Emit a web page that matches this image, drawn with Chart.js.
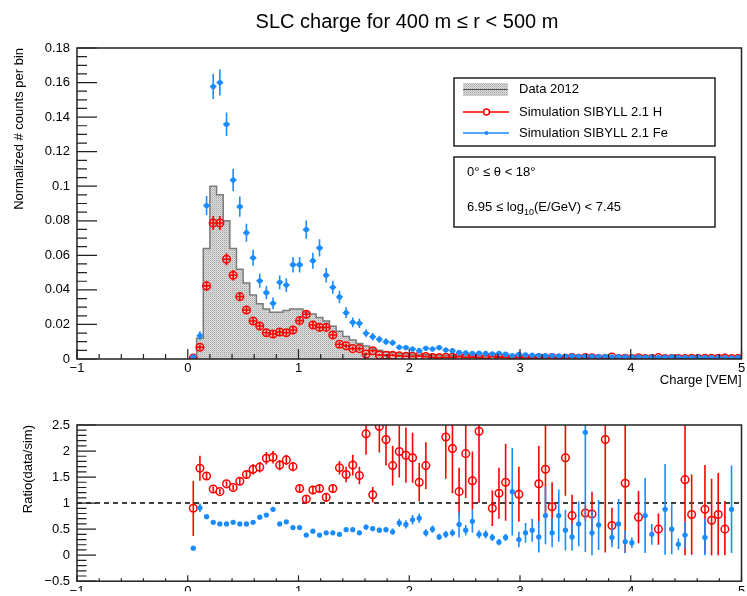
<!DOCTYPE html>
<html>
<head>
<meta charset="utf-8">
<script src="https://cdn.jsdelivr.net/npm/chart.js@4.4.1/dist/chart.umd.min.js"></script>
<style>
  html, body { margin: 0; padding: 0; background: #fff; overflow: hidden; }
  canvas { position: absolute; left: 0; }
  #top { top: 0; }
  #bottom { top: 400px; }
</style>
</head>
<body>
<canvas id="top" width="747" height="400"></canvas>
<canvas id="bottom" width="747" height="196"></canvas>
<script>
// bin centres (bins of 0.06 VEM)
const binCenters = [
  0.05, 0.11, 0.17, 0.23, 0.29, 0.35, 0.41, 0.47, 0.53, 0.59,
  0.65, 0.71, 0.77, 0.83, 0.89, 0.95, 1.01, 1.07, 1.13, 1.19,
  1.25, 1.31, 1.37, 1.43, 1.49, 1.55, 1.61, 1.67, 1.73, 1.79,
  1.85, 1.91, 1.97, 2.03, 2.09, 2.15, 2.21, 2.27, 2.33, 2.39,
  2.45, 2.51, 2.57, 2.63, 2.69, 2.75, 2.81, 2.87, 2.93, 2.99,
  3.05, 3.11, 3.17, 3.23, 3.29, 3.35, 3.41, 3.47, 3.53, 3.59,
  3.65, 3.71, 3.77, 3.83, 3.89, 3.95, 4.01, 4.07, 4.13, 4.19,
  4.25, 4.31, 4.37, 4.43, 4.49, 4.55, 4.61, 4.67, 4.73, 4.79,
  4.85, 4.91, 4.97
];
const binHalfWidth = 0.03;

// Data 2012 histogram
const dataCounts = [
  0.001, 0.012, 0.064, 0.100, 0.095, 0.080, 0.064, 0.052, 0.044, 0.037,
  0.032, 0.029, 0.027, 0.027, 0.028, 0.029, 0.029, 0.027, 0.026, 0.024,
  0.022, 0.019, 0.016, 0.013, 0.011, 0.009, 0.0075, 0.006, 0.005, 0.0042,
  0.0036, 0.0032, 0.0030, 0.0028, 0.0026, 0.0024, 0.0023, 0.0022, 0.0021, 0.0020,
  0.0019, 0.0018, 0.0017, 0.0016, 0.0015, 0.0014, 0.0013, 0.0012, 0.0012, 0.0011,
  0.0010, 0.0010, 0.0009, 0.0009, 0.0008, 0.0008, 0.0008, 0.0007, 0.0007, 0.0007,
  0.0006, 0.0006, 0.0006, 0.0006, 0.0005, 0.0005, 0.0005, 0.0005, 0.0005, 0.0004,
  0.0004, 0.0004, 0.0004, 0.0004, 0.0004, 0.0003, 0.0003, 0.0003, 0.0003, 0.0003,
  0.0003, 0.0003, 0.0002
];

// Simulation SIBYLL 2.1 H
const simH = [
  0.0005, 0.0068, 0.0423, 0.0787, 0.0787, 0.0577, 0.0485, 0.0361, 0.0284, 0.0220,
  0.0191, 0.0152, 0.0145, 0.0156, 0.0152, 0.0168, 0.0222, 0.0259, 0.0197, 0.0183,
  0.0183, 0.0139, 0.0085, 0.0077, 0.0060, 0.0060, 0.0029, 0.0048, 0.0023, 0.0022,
  0.0022, 0.0018, 0.0016, 0.0015, 0.0017, 0.0014, 0.0009, 0.0008, 0.0010, 0.0010,
  0.0013, 0.0009, 0.0011, 0.0007, 0.0004, 0.0014, 0.0011, 0.0009, 0.0004, 0.0009,
  0.0004, 0.0004, 0.0007, 0.0006, 0.0008, 0.0004, 0.0004, 0.0009, 0.0004, 0.0008,
  0.0007, 0.0003, 0.0003, 0.0012, 0.0003, 0.0004, 0.0003, 0.0007, 0.0003, 0.0003,
  0.0008, 0.0003, 0.0003, 0.0003, 0.0002, 0.0004, 0.0003, 0.0004, 0.0004, 0.0004,
  0.0006, 0.0003, 0.0003
];
const simHErr = [
  0.0005, 0.0015, 0.0030, 0.0040, 0.0040, 0.0035, 0.0030, 0.0027, 0.0024, 0.0021,
  0.0020, 0.0018, 0.0017, 0.0018, 0.0018, 0.0019, 0.0022, 0.0024, 0.0020, 0.0020,
  0.0020, 0.0017, 0.0014, 0.0013, 0.0012, 0.0012, 0.0009, 0.0010, 0.0007, 0.0007,
  0.0007, 0.0006, 0.0006, 0.0006, 0.0006, 0.0005, 0.0005, 0.0004, 0.0005, 0.0005,
  0.0005, 0.0004, 0.0005, 0.0004, 0.0003, 0.0005, 0.0005, 0.0004, 0.0003, 0.0004,
  0.0003, 0.0003, 0.0004, 0.0004, 0.0004, 0.0003, 0.0003, 0.0004, 0.0003, 0.0004,
  0.0004, 0.0003, 0.0003, 0.0005, 0.0003, 0.0003, 0.0003, 0.0004, 0.0003, 0.0003,
  0.0004, 0.0003, 0.0003, 0.0003, 0.0002, 0.0003, 0.0003, 0.0003, 0.0003, 0.0003,
  0.0004, 0.0003, 0.0003
];

// Simulation SIBYLL 2.1 Fe
const simFe = [
  0.0013, 0.0135, 0.0888, 0.1577, 0.1600, 0.1358, 0.1036, 0.0882, 0.0731, 0.0586,
  0.0453, 0.0384, 0.0322, 0.0444, 0.0428, 0.0546, 0.0546, 0.0749, 0.0569, 0.0643,
  0.0485, 0.0415, 0.0359, 0.0268, 0.0212, 0.0207, 0.0149, 0.0129, 0.0114, 0.0100,
  0.0094, 0.0068, 0.0066, 0.0058, 0.0048, 0.0062, 0.0058, 0.0066, 0.0052, 0.0048,
  0.0038, 0.0036, 0.0032, 0.0034, 0.0032, 0.0030, 0.0033, 0.0028, 0.0020, 0.0027,
  0.0024, 0.0022, 0.0021, 0.0019, 0.0020, 0.0018, 0.0017, 0.0018, 0.0016, 0.0015,
  0.0015, 0.0014, 0.0016, 0.0013, 0.0014, 0.0012, 0.0013, 0.0012, 0.0011, 0.0012,
  0.0010, 0.0011, 0.0012, 0.0010, 0.0009, 0.0010, 0.0011, 0.0009, 0.0008, 0.0009,
  0.0008, 0.0007, 0.0008
];
const simFeErr = [
  0.0008, 0.0025, 0.0055, 0.0072, 0.0075, 0.0068, 0.0065, 0.0058, 0.0052, 0.0046,
  0.0040, 0.0038, 0.0034, 0.0040, 0.0040, 0.0045, 0.0045, 0.0053, 0.0046, 0.0050,
  0.0042, 0.0038, 0.0036, 0.0031, 0.0028, 0.0027, 0.0023, 0.0022, 0.0020, 0.0019,
  0.0018, 0.0016, 0.0015, 0.0015, 0.0013, 0.0015, 0.0014, 0.0015, 0.0014, 0.0013,
  0.0012, 0.0012, 0.0011, 0.0011, 0.0011, 0.0010, 0.0011, 0.0010, 0.0009, 0.0010,
  0.0008, 0.0008, 0.0008, 0.0008, 0.0008, 0.0008, 0.0008, 0.0008, 0.0008, 0.0008,
  0.0008, 0.0008, 0.0008, 0.0008, 0.0008, 0.0008, 0.0008, 0.0008, 0.0008, 0.0008,
  0.0007, 0.0007, 0.0007, 0.0007, 0.0007, 0.0007, 0.0007, 0.0007, 0.0007, 0.0007,
  0.0007, 0.0007, 0.0007
];

// ratio data / sim (null = not drawn)
const ratioH = [
  0.90, 1.67, 1.52, 1.27, 1.22, 1.37, 1.30, 1.42, 1.55, 1.65,
  1.69, 1.86, 1.88, 1.73, 1.83, 1.70, 1.28, 1.08, 1.25, 1.28,
  1.11, 1.28, 1.68, 1.55, 1.73, 1.53, 2.33, 1.16, 2.47, 2.22,
  1.72, 1.99, 1.92, 1.87, 1.40, 1.72, null, null, 2.27, 2.05,
  1.22, 1.95, 1.43, 2.38, null, 0.90, 1.19, 1.40, null, 1.17,
  null, null, 1.37, 1.65, 0.93, null, 1.87, 0.76, null, 0.81,
  0.79, null, 2.22, 0.57, null, 1.38, null, 0.73, null, null,
  0.50, null, null, null, 1.45, 0.78, null, 0.88, 0.67, 0.78,
  0.50, null, null
];
const ratioHErr = [
  0.53, 0.24, 0.07, 0.05, 0.05, 0.05, 0.05, 0.07, 0.08, 0.10,
  0.10, 0.12, 0.12, 0.10, 0.10, 0.09, 0.07, 0.06, 0.07, 0.08,
  0.08, 0.08, 0.13, 0.15, 0.20, 0.17, 0.40, 0.15, 0.50, 0.50,
  0.38, 0.50, 0.53, 0.48, 0.37, 0.45, 0, 0, 0.80, 0.86,
  0.46, 0.85, 0.56, 1.38, 0, 0.34, 0.49, 0.74, 0, 0.53,
  0, 0, 0.73, 0.90, 0.47, 0, 0.73, 0.40, 0, 0.15,
  0.43, 0, 2.17, 0.34, 0, 1.34, 0, 0.50, 0, 0,
  0.30, 0, 0, 0, 1.45, 0.77, 0, 0.85, 0.80, 0.80,
  0.54, 0, 0
];
const ratioFe = [
  0.135, 0.91, 0.74, 0.63, 0.60, 0.60, 0.63, 0.60, 0.60, 0.63,
  0.73, 0.77, 0.88, 0.60, 0.64, 0.53, 0.53, 0.385, 0.46, 0.385,
  0.43, 0.43, 0.40, 0.49, 0.49, 0.43, 0.54, 0.51, 0.48, 0.49,
  0.45, 0.62, 0.59, 0.68, 0.71, 0.43, 0.50, 0.35, 0.40, 0.43,
  0.59, 0.48, 0.65, 0.40, 0.40, 0.34, 0.25, 0.34, 1.22, 0.30,
  0.43, 0.48, 0.35, 0.76, 0.43, 0.76, 0.48, 0.35, 0.60, 2.36,
  0.43, 0.58, null, 0.34, 0.60, 0.26, 0.24, null, 0.76, 0.40,
  null, 0.88, 0.50, 0.21, 0.385, null, null, 0.34, null, null,
  null, 0.88, null
];
const ratioFeErr = [
  0.02, 0.08, 0.03, 0.02, 0.02, 0.02, 0.02, 0.02, 0.02, 0.02,
  0.03, 0.03, 0.04, 0.03, 0.03, 0.03, 0.03, 0.02, 0.03, 0.03,
  0.03, 0.03, 0.03, 0.04, 0.04, 0.04, 0.05, 0.05, 0.05, 0.05,
  0.06, 0.08, 0.08, 0.09, 0.09, 0.07, 0.07, 0.06, 0.07, 0.07,
  0.25, 0.10, 0.22, 0.08, 0.08, 0.07, 0.06, 0.07, 0.84, 0.15,
  0.19, 0.22, 0.30, 0.55, 0.28, 0.50, 0.39, 0.26, 0.43, 2.30,
  0.43, 0.48, 0, 0.19, 0.48, 0.22, 0.10, 0, 0.72, 0.20,
  0, 0.87, 0.48, 0.11, 0.25, 0, 0, 0.36, 0, 0,
  0, 0.84, 0
];

// axis ticks
const xTicks = [-1, 0, 1, 2, 3, 4, 5];
const topYTicks = [0, 0.02, 0.04, 0.06, 0.08, 0.1, 0.12, 0.14, 0.16, 0.18];
const ratioYTicks = [-0.5, 0, 0.5, 1, 1.5, 2, 2.5];
const ratioRef = 1;

const hColor = '#ff0000';
const feColor = '#1a8cff';
const fontFamily = "'Liberation Sans', Arial, Helvetica, sans-serif";

Chart.defaults.font.family = fontFamily;
Chart.defaults.font.size = 13;
Chart.defaults.color = '#000';

const pts = arr => binCenters.map((c, i) => ({ x: c, y: arr[i] }));
const fmt = v => (v < 0 ? '\u2212' : '') + String(+Math.abs(v).toFixed(2));

// fine grey dot fill like the ROOT fill style
function makeHatch() {
    const c = document.createElement('canvas');
    c.width = 2; c.height = 2;
    const g = c.getContext('2d');
    g.fillStyle = '#dedede';
    g.fillRect(0, 0, 2, 2);
    g.fillStyle = '#a2a2a2';
    g.fillRect(0, 0, 1, 1);
    g.fillStyle = '#c4c4c4';
    g.fillRect(1, 1, 1, 1);
    return g.createPattern(c, 'repeat');
}
const hatch = makeHatch();

// error bars drawn right after each dataset
const errorBars = {
    id: 'errorBars',
    afterDatasetDraw(chart, args) {
        const ds = chart.data.datasets[args.index];
        if (!ds.errors) return;
        const { ctx, chartArea: a, scales: { x, y } } = chart;
        ctx.save();
        ctx.beginPath();
        ctx.rect(a.left, a.top, a.right - a.left, a.bottom - a.top);
        ctx.clip();
        ctx.strokeStyle = ds.pointBorderColor;
        ctx.lineWidth = 1.6;
        ds.data.forEach((p, i) => {
            if (p.y === null) return;
            const e = ds.errors[i];
            const px = x.getPixelForValue(p.x);
            const py = y.getPixelForValue(p.y);
            ctx.beginPath();
            if (e > 0) {
                ctx.moveTo(px, y.getPixelForValue(Math.max(p.y - e, 0)));
                ctx.lineTo(px, y.getPixelForValue(p.y + e));
            }
            if (ds.xErr) {
                ctx.moveTo(x.getPixelForValue(p.x - ds.xErr), py);
                ctx.lineTo(x.getPixelForValue(p.x + ds.xErr), py);
            }
            ctx.stroke();
        });
        ctx.restore();
    }
};

// ROOT style frame with inward ticks
const rootFrame = {
    id: 'rootFrame',
    beforeDatasetsDraw(chart, args, o) {
        if (o.refLine === undefined) return;
        const { ctx, chartArea: a, scales: { y } } = chart;
        const py = y.getPixelForValue(o.refLine);
        ctx.save();
        ctx.strokeStyle = '#000';
        ctx.lineWidth = 1.5;
        ctx.setLineDash([5, 4]);
        ctx.beginPath();
        ctx.moveTo(a.left, py);
        ctx.lineTo(a.right, py);
        ctx.stroke();
        ctx.restore();
    },
    afterDraw(chart, args, o) {
        const { ctx, chartArea: a, scales: { x, y } } = chart;
        ctx.save();
        ctx.strokeStyle = '#222';
        ctx.lineWidth = 1.5;
        ctx.strokeRect(a.left, a.top, a.right - a.left, a.bottom - a.top);
        ctx.lineWidth = 1.2;
        ctx.beginPath();
        const nx = Math.round((x.max - x.min) / o.xMinor);
        for (let i = 0; i <= nx; i++) {
            const v = x.min + i * o.xMinor;
            const major = xTicks.some(t => Math.abs(t - v) < 1e-6);
            const px = x.getPixelForValue(v);
            ctx.moveTo(px, a.bottom);
            ctx.lineTo(px, a.bottom - (major ? o.xMajorLen : o.xMajorLen / 2));
        }
        const ny = Math.round((y.max - y.min) / o.yMinor);
        for (let i = 0; i <= ny; i++) {
            const v = y.min + i * o.yMinor;
            const major = o.yTicks.some(t => Math.abs(t - v) < 1e-6);
            const py = y.getPixelForValue(v);
            ctx.moveTo(a.left, py);
            ctx.lineTo(a.left + (major ? o.yMajorLen : o.yMajorLen / 2), py);
        }
        ctx.stroke();
        ctx.restore();
    }
};

// title and the two legend panes
const topDecor = {
    id: 'topDecor',
    afterDraw(chart) {
        const ctx = chart.ctx;
        ctx.save();
        ctx.fillStyle = '#000';
        ctx.textBaseline = 'middle';
        ctx.textAlign = 'center';
        ctx.font = '20px ' + fontFamily;
        ctx.fillText('SLC charge for 400 m \u2264 r < 500 m', 407, 22);

        ctx.strokeStyle = '#222';
        ctx.lineWidth = 1.5;
        ctx.strokeRect(454, 78, 261, 68);
        ctx.strokeRect(454, 157, 261, 70);

        ctx.textAlign = 'left';
        ctx.font = '13px ' + fontFamily;
        // Data 2012
        ctx.fillStyle = hatch;
        ctx.fillRect(463, 83, 45, 13);
        ctx.strokeStyle = '#555';
        ctx.lineWidth = 1;
        ctx.beginPath(); ctx.moveTo(463, 89.5); ctx.lineTo(508, 89.5); ctx.stroke();
        ctx.fillStyle = '#000';
        ctx.fillText('Data 2012', 519, 89);
        // H
        ctx.strokeStyle = hColor;
        ctx.lineWidth = 1.5;
        ctx.beginPath(); ctx.moveTo(463, 112); ctx.lineTo(509, 112); ctx.stroke();
        ctx.fillStyle = '#fff';
        ctx.beginPath(); ctx.arc(486.5, 112, 3, 0, Math.PI * 2); ctx.fill(); ctx.stroke();
        ctx.fillStyle = '#000';
        ctx.fillText('Simulation SIBYLL 2.1 H', 519, 112);
        // Fe
        ctx.strokeStyle = feColor;
        ctx.beginPath(); ctx.moveTo(463, 133); ctx.lineTo(509, 133); ctx.stroke();
        ctx.fillStyle = feColor;
        ctx.beginPath(); ctx.arc(486.5, 133, 2, 0, Math.PI * 2); ctx.fill();
        ctx.fillStyle = '#000';
        ctx.fillText('Simulation SIBYLL 2.1 Fe', 519, 133);

        // cuts
        ctx.fillText('0\u00b0 \u2264 \u03b8 < 18\u00b0', 467, 172);
        let tx = 467;
        const s1 = '6.95 \u2264 log';
        ctx.fillText(s1, tx, 207);
        tx += ctx.measureText(s1).width;
        ctx.font = '9px ' + fontFamily;
        ctx.fillText('10', tx, 213);
        tx += ctx.measureText('10').width;
        ctx.font = '13px ' + fontFamily;
        ctx.fillText('(E/GeV) < 7.45', tx, 207);
        ctx.restore();
    }
};

function xScale(height, titleText) {
    return {
        type: 'linear', min: -1, max: 5,
        grid: { display: false, drawTicks: false },
        border: { display: false },
        afterBuildTicks: s => { s.ticks = xTicks.map(v => ({ value: v })); },
        afterFit: s => { s.height = height; s.paddingLeft = 0; s.paddingRight = 0; },
        ticks: { padding: 2, callback: fmt, maxRotation: 0, autoSkip: false, font: { size: 13 } },
        title: titleText ? { display: true, text: titleText, align: 'end', font: { size: 13 }, padding: { top: 0, bottom: 12 } } : { display: false }
    };
}

function yScale(min, max, tickList, titleText, titlePad) {
    return {
        min: min, max: max,
        grid: { display: false, drawTicks: false },
        border: { display: false },
        afterBuildTicks: s => { s.ticks = tickList.map(v => ({ value: v })); },
        afterFit: s => { s.width = 77; },
        ticks: { padding: 7, callback: fmt, autoSkip: false, font: { size: 13 } },
        title: { display: true, text: titleText, align: 'end', font: { size: 13 }, padding: { top: titlePad, bottom: 0 } }
    };
}

new Chart(document.getElementById('top'), {
    type: 'scatter',
    data: {
        datasets: [
            {
                label: 'Simulation SIBYLL 2.1 Fe', data: pts(simFe), errors: simFeErr, xErr: binHalfWidth,
                order: 0, pointRadius: 2.6, pointBorderWidth: 0,
                pointBackgroundColor: feColor, pointBorderColor: feColor, borderColor: feColor
            },
            {
                label: 'Simulation SIBYLL 2.1 H', data: pts(simH), errors: simHErr, xErr: binHalfWidth,
                order: 1, pointRadius: 3.8, pointBorderWidth: 1.5,
                pointBackgroundColor: 'rgba(0,0,0,0)', pointBorderColor: hColor, borderColor: hColor
            },
            {
                type: 'line', label: 'Data 2012', data: pts(dataCounts),
                stepped: 'middle', fill: 'origin', backgroundColor: hatch,
                borderColor: '#7a7a7a', borderWidth: 1.5, pointRadius: 0, order: 2
            }
        ]
    },
    options: {
        responsive: false,
        animation: false,
        events: [],
        layout: { padding: { top: 48, right: 1, bottom: 0, left: 0 } },
        plugins: {
            legend: { display: false },
            tooltip: { enabled: false },
            rootFrame: { xMinor: 0.2, xMajorLen: 10, yMinor: 0.005, yMajorLen: 20, yTicks: topYTicks }
        },
        scales: {
            x: xScale(41, 'Charge [VEM]'),
            y: yScale(0, 0.18, topYTicks, 'Normalized # counts per bin', 12)
        }
    },
    plugins: [errorBars, rootFrame, topDecor]
});

new Chart(document.getElementById('bottom'), {
    type: 'scatter',
    data: {
        datasets: [
            {
                label: 'data / Fe', data: pts(ratioFe), errors: ratioFeErr, xErr: 0.02,
                order: 0, pointRadius: 2.6, pointBorderWidth: 0,
                pointBackgroundColor: feColor, pointBorderColor: feColor, borderColor: feColor
            },
            {
                label: 'data / H', data: pts(ratioH), errors: ratioHErr,
                order: 1, pointRadius: 3.8, pointBorderWidth: 1.5,
                pointBackgroundColor: '#fff', pointBorderColor: hColor, borderColor: hColor
            }
        ]
    },
    options: {
        responsive: false,
        animation: false,
        events: [],
        layout: { padding: { top: 25, right: 1, bottom: 0, left: 0 } },
        plugins: {
            legend: { display: false },
            tooltip: { enabled: false },
            rootFrame: { xMinor: 0.2, xMajorLen: 6, yMinor: 0.1, yMajorLen: 19, yTicks: ratioYTicks, refLine: ratioRef }
        },
        scales: {
            x: xScale(10, null),
            y: yScale(-0.5, 2.5, ratioYTicks, 'Ratio(data/sim)', 21)
        }
    },
    plugins: [errorBars, rootFrame]
});
</script>
</body>
</html>
